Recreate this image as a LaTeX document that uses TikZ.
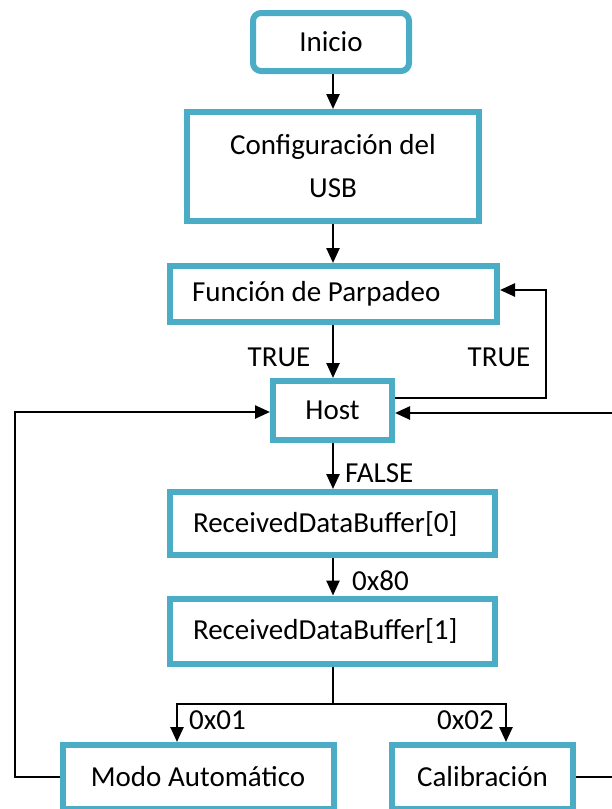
\documentclass[tikz,border=0pt]{standalone}
\usepackage{fontspec}
\setmainfont{Carlito}
\usetikzlibrary{arrows.meta}
\definecolor{azulcaja}{HTML}{4BACC6}

\begin{document}
\begin{tikzpicture}[x=1pt, y=-1pt, font=\fontsize{29}{43}\selectfont,
    caja/.style = {draw=azulcaja, line width=6pt, fill=white, inner sep=0pt},
    flecha/.style = {-{Triangle[length=15pt, width=13pt]}, line width=2.5pt},
    linea/.style = {line width=2.5pt}]
    \useasboundingbox (0,0) rectangle (612,809);
    % Cajas del diagrama (unidades en px de la imagen)
    \node[caja, rounded corners=8pt, minimum width=156pt, minimum height=58pt] (inicio) at (331,42) {Inicio};
    \node[caja, minimum width=292pt, minimum height=109pt, align=center] (config) at (333,166.5) {Configuración del\\USB};
    \node[caja, inner xsep=22pt, minimum height=56pt] (funcion) at (333.5,294) {\makebox[283pt][l]{Función de Parpadeo}};
    \node[caja, minimum width=119pt, minimum height=59pt] (host) at (332.5,410.5) {Host};
    \node[caja, inner xsep=23pt, minimum height=63pt] (rdb0) at (332.5,523.5) {\makebox[279pt][l]{ReceivedDataBuffer[0]}};
    \node[caja, inner xsep=23pt, minimum height=65pt] (rdb1) at (332.5,631) {\makebox[279pt][l]{ReceivedDataBuffer[1]}};
    \node[caja, minimum width=271pt, minimum height=64pt] (modo) at (198,777) {Modo Automático};
    \node[caja, minimum width=181pt, minimum height=64pt] (calib) at (482.5,777) {Calibración};
    % Puntos de paso
    \coordinate (lazo) at (546,398);
    \coordinate (lazoarriba) at (546,290);
    \coordinate (bordeder) at (614,413);
    \coordinate (bordeizq) at (15,412);
    \coordinate (rama) at (333,704);
    \coordinate (ramaizq) at (177,704);
    \coordinate (ramader) at (506,704);
    % Conectores
    \draw[flecha] (inicio.south -| config) -- (config.north);
    \draw[flecha] (config) -- (funcion.north -| config);
    \draw[flecha] (funcion.south -| rama) -- (host.north -| rama);
    \draw[flecha] (host.east |- lazo) -- (lazo) -- (lazoarriba) -- (funcion.east |- lazoarriba);
    \draw[flecha] (calib.east) -| (bordeder) -- (host.east |- bordeder);
    \draw[flecha] (modo.west) -| (bordeizq) -- (host.west |- bordeizq);
    \draw[flecha] (host.south -| rama) -- (rdb0.north -| rama);
    \draw[flecha] (rdb0.south -| rama) -- (rdb1.north -| rama);
    \draw[linea] (rdb1.south -| rama) -- (rama);
    \draw[flecha] (rama) -- (ramaizq) -- (ramaizq |- modo.north);
    \draw[flecha] (rama) -- (ramader) -- (ramader |- calib.north);
    % Etiquetas
    \node[inner sep=0pt] (true1) at (279,357) {TRUE};
    \node[inner sep=0pt] (true2) at (499,357) {TRUE};
    \node[inner sep=0pt, anchor=west] (falso) at (345,473) {FALSE};
    \node[inner sep=0pt, anchor=west] (v80) at (352,581) {0x80};
    \node[inner sep=0pt, anchor=west] (v01) at (189,720) {0x01};
    \node[inner sep=0pt, anchor=east] (v02) at (494,720) {0x02};
\end{tikzpicture}
\end{document}
